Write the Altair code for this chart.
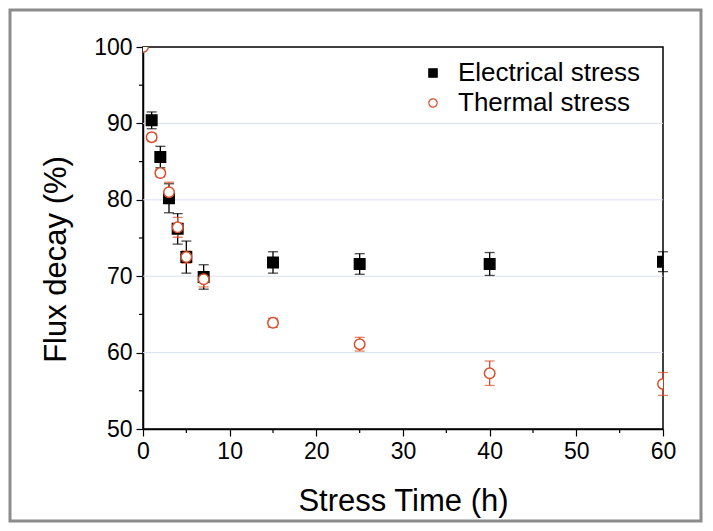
import altair as alt
import pandas as pd

# Data
elec_time = [1, 2, 3, 4, 5, 7, 15, 25, 40, 60]
elec_flux = [90.4, 85.6, 80.2, 76.2, 72.5, 69.9, 71.8, 71.6, 71.6, 71.9]
elec_err = [1.1, 1.4, 1.9, 2.0, 2.1, 1.6, 1.4, 1.35, 1.5, 1.3]

therm_time = [0, 1, 2, 3, 4, 5, 7, 15, 25, 40, 60]
therm_flux = [100.0, 88.2, 83.5, 81.0, 76.4, 72.5, 69.6, 63.9, 61.1, 57.3, 55.9]
therm_err = [0.0, 0.5, 0.5, 1.3, 1.3, 0.8, 1.0, 0.6, 0.9, 1.6, 1.5]

series_names = ["Electrical stress", "Thermal stress"]
series_stroke = ["#000000", "#d4502a"]
series_fill = ["#000000", "#ffffff"]
series_shape = ["square", "circle"]

x_ticks = [0, 10, 20, 30, 40, 50, 60]
y_ticks = [50, 60, 70, 80, 90, 100]
x_minor = [5, 15, 25, 35, 45, 55]
y_minor = [55, 65, 75, 85, 95]
y_grid = [60, 70, 80, 90]

rows = []
for t, v, e in zip(elec_time, elec_flux, elec_err):
    rows.append({"time": t, "flux": v, "lo": v - e, "hi": v + e, "series": series_names[0]})
for t, v, e in zip(therm_time, therm_flux, therm_err):
    rows.append({"time": t, "flux": v, "lo": v - e, "hi": v + e, "series": series_names[1]})
df = pd.DataFrame(rows)
df_err = df[df["hi"] > df["lo"]]

W, H = 520, 382
FONT = "Liberation Sans"

xscale = alt.Scale(domain=[0, 60], nice=False, zero=False)
yscale = alt.Scale(domain=[50, 100], nice=False, zero=False)

x_axis = alt.Axis(title="Stress Time (h)", values=x_ticks, grid=False,
                  labelFontSize=23, titleFontSize=31,
                  labelFont=FONT, titleFont=FONT, titleFontWeight="normal",
                  labelColor="black", titleColor="black",
                  domainColor="black", tickColor="black",
                  tickSize=7, labelPadding=4, titlePadding=23,
                  labelFlush=False)
y_axis = alt.Axis(title="Flux decay (%)", values=y_ticks, grid=False,
                  labelFontSize=23, titleFontSize=31,
                  labelFont=FONT, titleFont=FONT, titleFontWeight="normal",
                  labelColor="black", titleColor="black",
                  domainColor="black", tickColor="black",
                  tickSize=7, labelPadding=4,
                  titleX=-71, titleY=212,
                  labelFlush=False)

# light horizontal gridlines
grid = alt.Chart(pd.DataFrame({"flux": y_grid})).mark_rule(color="#dcdff2", strokeWidth=1).encode(
    y=alt.Y("flux:Q", scale=yscale, axis=y_axis)
)

# minor ticks
minor_x_marks = alt.Chart(pd.DataFrame({"time": x_minor})).mark_rule(color="black", strokeWidth=1.2).encode(
    x=alt.X("time:Q", scale=xscale, axis=x_axis),
    y=alt.value(H), y2=alt.value(H + 4)
)
minor_y_marks = alt.Chart(pd.DataFrame({"flux": y_minor})).mark_rule(color="black", strokeWidth=1.2).encode(
    y=alt.Y("flux:Q", scale=yscale, axis=y_axis),
    x=alt.value(-4), x2=alt.value(0)
)

err_layers = []
for name, col in zip(series_names, series_stroke):
    b = alt.Chart(df_err).transform_filter(alt.datum.series == name)
    err_layers.append(b.mark_rule(strokeWidth=1.3, color=col).encode(
        x=alt.X("time:Q", scale=xscale, axis=x_axis),
        y=alt.Y("lo:Q", scale=yscale, axis=y_axis),
        y2="hi:Q",
    ))
    for f in ["lo", "hi"]:
        err_layers.append(b.mark_tick(orient="horizontal", size=10, thickness=1.3, color=col).encode(
            x=alt.X("time:Q", scale=xscale, axis=x_axis),
            y=alt.Y(f + ":Q", scale=yscale, axis=y_axis),
        ))

legend_cfg = alt.Legend(title=None, orient="none", legendX=277, legendY=13,
                        labelFontSize=26, labelFont=FONT, labelColor="black",
                        labelLimit=400,
                        symbolSize=70, symbolStrokeWidth=1.2, labelOffset=12,
                        rowPadding=4)

points = alt.Chart(df).mark_point(filled=True, opacity=1, size=110, strokeWidth=1.5, clip=True).encode(
    x=alt.X("time:Q", scale=xscale, axis=x_axis),
    y=alt.Y("flux:Q", scale=yscale, axis=y_axis),
    shape=alt.Shape("series:N", scale=alt.Scale(domain=series_names, range=series_shape), legend=legend_cfg),
    fill=alt.Fill("series:N", scale=alt.Scale(domain=series_names, range=series_fill), legend=legend_cfg),
    stroke=alt.Stroke("series:N", scale=alt.Scale(domain=series_names, range=series_stroke), legend=legend_cfg),
)

# outer picture frame
frame = alt.Chart(pd.DataFrame({"a": [0]})).mark_rect(
    fill=None, stroke="#8c8c8c", strokeWidth=3, clip=False
).encode(
    x=alt.value(-133), x2=alt.value(W + 38),
    y=alt.value(-37), y2=alt.value(H + 92)
)

chart = alt.layer(
    grid, minor_x_marks, minor_y_marks, *err_layers, points, frame
).properties(
    width=W, height=H,
    autosize=alt.AutoSizeParams(type="none"),
    padding={"left": 135, "top": 39, "right": 40, "bottom": 94},
    background="white",
).configure_view(
    stroke="black", strokeWidth=1.5
).configure_axis(
    domainWidth=1.5, tickWidth=1.2
)

chart.save("out.html", embed_options={"renderer": "svg", "actions": False})
